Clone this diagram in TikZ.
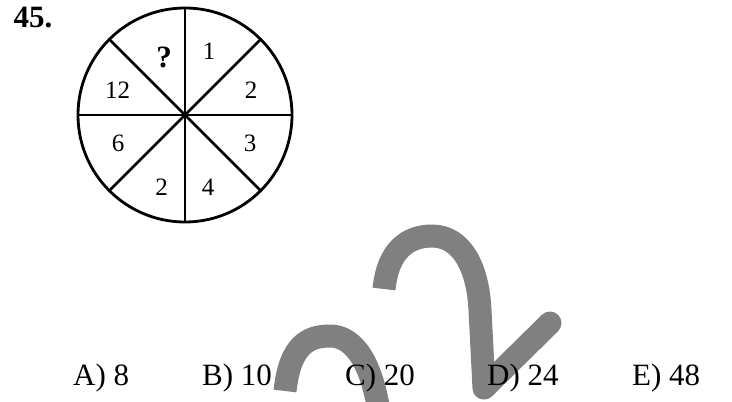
\documentclass[tikz,border=0pt]{standalone}
\usepackage{fontspec}
\setmainfont{Liberation Serif}
\begin{document}
\begin{tikzpicture}[x=1pt,y=-1pt,
  wheel/.style={line width=2.8pt},
  graystroke/.style={draw=black!50, line width=23pt, line join=round},
  num/.style={inner sep=0pt, font=\fontsize{25}{28}\selectfont},
  qmark/.style={inner sep=0pt, font=\fontsize{31}{34}\selectfont\bfseries},
  answer/.style={inner sep=0pt, anchor=base west, font=\fontsize{31}{34}\selectfont},
  title/.style={inner sep=0pt, font=\fontsize{31}{34}\selectfont\bfseries}]
\useasboundingbox (0,0) rectangle (732,402);
\fill[white] (0,0) rectangle (732,402);
% gray strokes (drawn first, text lies on top)
\begin{scope}
\clip (0,0) rectangle (732,402);
\draw[graystroke, line cap=butt] (285,391) .. controls (290,345) and (308,336) .. (330,336) .. controls (355,336) and (372,365) .. (379,412);
\draw[graystroke, line cap=butt] (384,289) .. controls (388,250) and (408,236) .. (432,236) .. controls (462,236) and (478,268) .. (480,310) -- (484,388) -- (550,323);
\fill[black!50] (550,323) circle (11.5);
\end{scope}
% wheel
\node[wheel, draw, circle, minimum size=214pt, inner sep=0pt] (wheel) at (185,115) {};
\foreach \a in {0,45,...,315} \draw[wheel] (wheel.center) -- +(\a:107);
% sector numbers
\node[qmark] (q) at (164,57) {?};
\node[num] (n1) at (209,51) {1};
\node[num] (n2) at (251,90) {2};
\node[num] (n3) at (250,143) {3};
\node[num] (n4) at (208,187) {4};
\node[num] (n5) at (161.5,187) {2};
\node[num] (n6) at (118,143) {6};
\node[num] (n7) at (117.5,90) {12};
% title
\node[title] (title) at (33,17.5) {45.};
% answers
\node[answer] (ansA) at (73,385) {A) 8};
\node[answer] (ansB) at (202,385) {B) 10};
\node[answer] (ansC) at (345,385) {C) 20};
\node[answer] (ansD) at (487,385) {D) 24};
\node[answer] (ansE) at (632,385) {E) 48};
\end{tikzpicture}
\end{document}
